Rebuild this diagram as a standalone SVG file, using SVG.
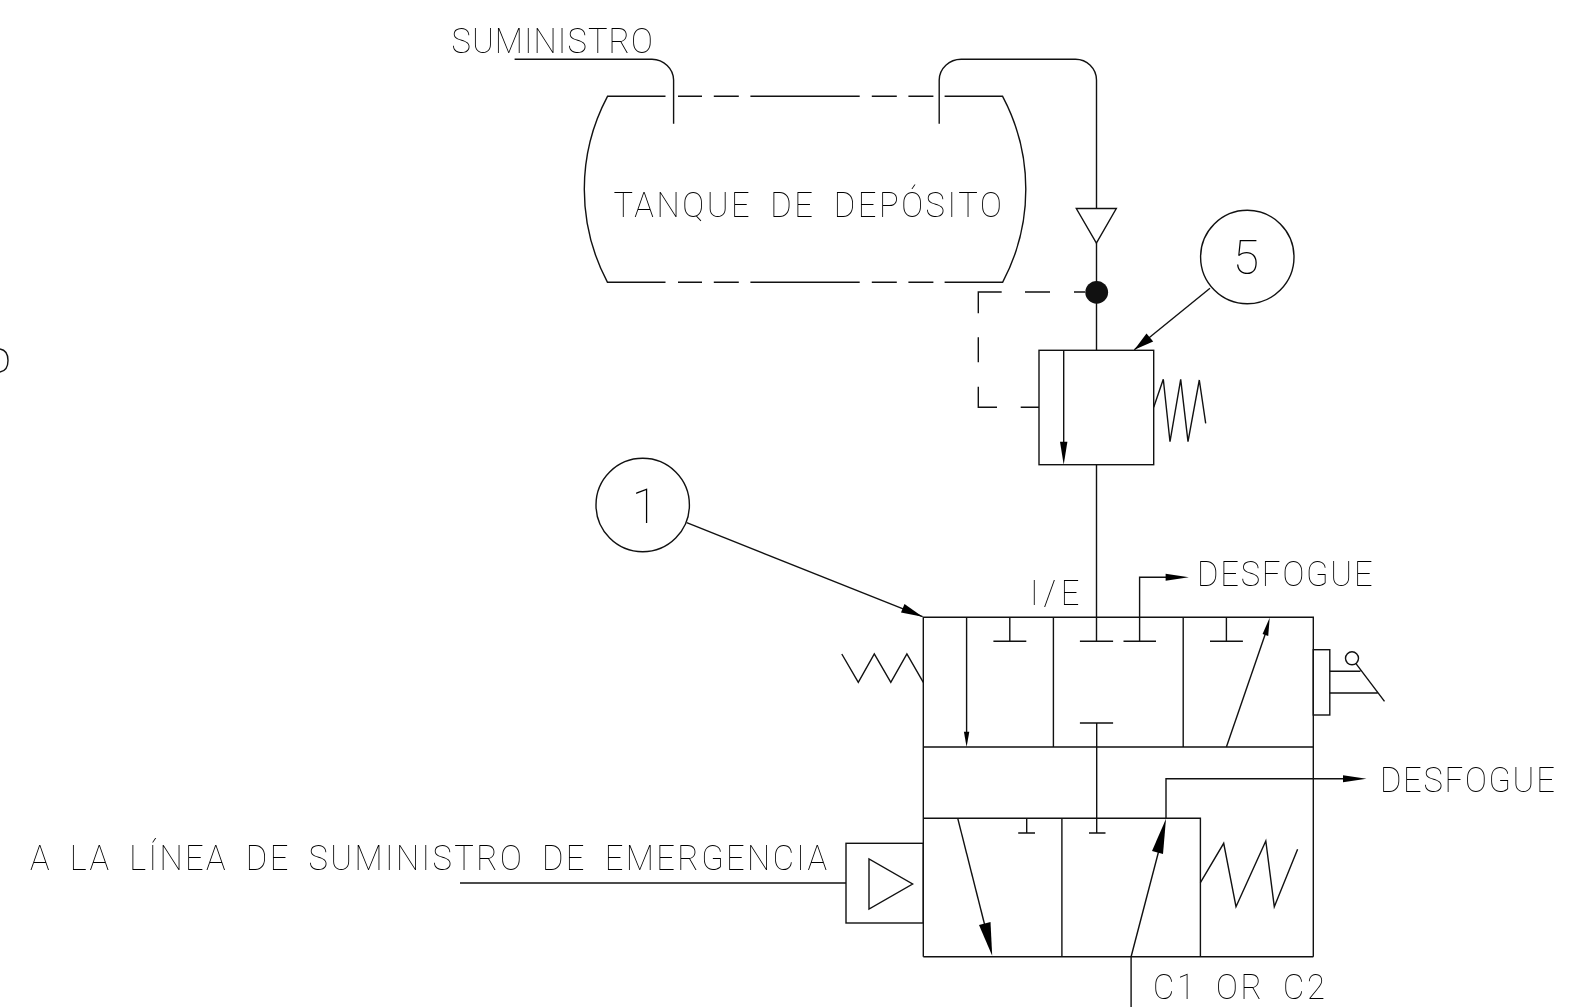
<svg xmlns="http://www.w3.org/2000/svg" width="1589" height="1007" viewBox="0 0 1589 1007">
<defs><filter id="g" x="-10%" y="-30%" width="120%" height="160%" color-interpolation-filters="sRGB"><feOffset dx="0" dy="0"/></filter></defs>
<style>
.l{fill:none;stroke:#111;stroke-width:1.4}
.f{fill:#000;stroke:none}
.t{font-family:Roboto,"Liberation Sans",Arial,sans-serif;fill:#000;font-weight:100;font-size:34.5px;word-spacing:8px;filter:url(#g)}
.n{font-size:48px;word-spacing:0}
</style>
<rect width="1589" height="1007" fill="#fff"/>
<g id="connectors">
<path class="l" d="M514.6 59.3H652A22 21 0 0 1 673.6 80V123.7"/>
<path class="l" d="M939.2 123.7V80A22 21 0 0 1 961.5 59.3H1075.4A21 21 0 0 1 1096.5 80V208.5"/>
<path class="l" d="M1096.5 243V350.3M1096.5 464.7V641.3"/>
<path class="l" d="M1085 292H1074M1050 292H1025M1001.7 292H978.3V313.3M978.3 337.3V362.3M978.3 386.7V407.3H997M1020.7 407.3H1039"/>
<path class="l" d="M1210 288.3L1134.3 349.7"/>
<path class="f" d="M1134.3 349.7L1146.5 333.5L1153.2 341.5Z"/>
<path class="l" d="M686.7 522.7L922.6 616.7"/>
<path class="f" d="M922.6 616.7L901 612.5L904.5 604Z"/>
<path class="l" d="M1139.6 617.3V577.3H1166"/>
<path class="f" d="M1188.9 577.3L1165.6 573.8V580.8Z"/>
<path class="l" d="M1166 818.3V778.7H1344"/>
<path class="f" d="M1366.5 778.7L1343 775.2V782.2Z"/>
<path class="l" d="M1096.7 723V833"/>
<path class="l" d="M1131.1 1007V956.7L1159 850"/>
<path class="f" d="M1166 818.7L1163 854L1152 851Z"/>
<path class="l" d="M460 883H846"/>
</g>
<g id="tank">
<path class="l" d="M665.5 96.3H607.5A198 198 0 0 0 607.5 282.3H665.5M678 282.3H702M713.8 282.3H738.8M750.4 282.3H859.7M871.8 282.3H896.8M908.4 282.3H933.4M944.6 282.3H1002.6A198 198 0 0 0 1002.6 96.3H944.6M933.4 96.3H908.4M896.8 96.3H871.8M859.7 96.3H750.4M738.8 96.3H713.8M702 96.3H678"/>
<text class="t" transform="translate(613.4 216.7) scale(.95 1)" textLength="408.8" lengthAdjust="spacing">TANQUE DE DEPÓSITO</text>
</g>
<g id="supply-label"><text class="t" transform="translate(451.5 52.7) scale(.95 1)" textLength="212" lengthAdjust="spacing">SUMINISTRO</text></g>
<g id="check-valve"><path class="l" d="M1076.3 208.5H1116.3L1096.4 243Z"/></g>
<g id="junction"><circle cx="1096.7" cy="292.3" r="11.4" fill="#111"/></g>
<g id="balloon-5"><circle class="l" cx="1247.3" cy="257" r="46.7"/><text class="t n" x="1246" y="274" text-anchor="middle">5</text></g>
<g id="balloon-1"><circle class="l" cx="642.7" cy="505" r="46.7"/><text class="t n" x="645" y="523" text-anchor="middle">1</text></g>
<g id="valve-5">
<rect class="l" x="1039" y="350.3" width="114.7" height="114.4"/>
<path class="l" d="M1063.7 350.3V445"/>
<path class="f" d="M1063.7 464.7L1060 441.7H1067.4Z"/>
<path class="l" d="M1153.7 407.3L1163.3 379.3L1170 441.7L1180.7 379.3L1188 441.7L1199.3 380L1205.7 423.3"/>
</g>
<g id="valve-upper">
<path class="l" d="M923.3 956.7V617.3H1313.3V956.7M923.3 747H1313.3M1053.4 617.3V747M1183.2 617.3V747"/>
<path class="l" d="M1009.8 617.3V641.3M993.4 641.3H1026.3M1079.9 641.3H1113.1M1139.6 617.3V641.3M1123.5 641.3H1156M1226.4 617.3V641.3M1210 641.3H1242.9M1079.9 723H1113.1"/>
<path class="l" d="M966.6 617.3V735"/>
<path class="f" d="M966.6 747L963.9 731.7H969.3Z"/>
<path class="l" d="M1226.4 747L1266 632"/>
<path class="f" d="M1269.7 617.7L1268.2 636L1262.6 634Z"/>
<path class="l" d="M841.8 654L858.3 682.3L874.3 654L890.8 682.3L906.9 654L923.3 682.3"/>
<rect class="l" x="1313.3" y="649.7" width="16.5" height="65.3"/>
<path class="l" d="M1329.8 671.3H1360.4M1329.8 693H1377.6M1355.8 663.3L1384.5 701.3"/>
<circle class="l" cx="1352" cy="658.3" r="6.5"/>
</g>
<g id="valve-lower">
<path class="l" d="M923.3 818.3H1200.4V956.7M923.3 956.7H1313.3M1061.9 818.3V956.7"/>
<path class="l" d="M1026.7 818.3V833M1018.2 833H1035M1089 833H1105.5"/>
<path class="l" d="M957.8 818.7L986 930"/>
<path class="f" d="M992.2 955.7L979 925L990.5 922Z"/>
<path class="l" d="M1200.4 882.7L1223.7 843.3L1236 906.7L1265.8 841L1274.3 906.7L1297.6 849.3"/>
<rect class="l" x="846" y="843.3" width="77.3" height="79.7"/>
<path class="l" d="M869 859V909L912.6 884Z"/>
</g>
<g id="labels">
<text class="t" transform="translate(1030 605) scale(.95 1)" textLength="52" lengthAdjust="spacing">I/E</text>
<text class="t" transform="translate(1196.9 586) scale(.95 1)" textLength="185" lengthAdjust="spacing">DESFOGUE</text>
<text class="t" transform="translate(1380 791.7) scale(.95 1)" textLength="184" lengthAdjust="spacing">DESFOGUE</text>
<text class="t" transform="translate(1153 999.3) scale(.95 1)" textLength="181" lengthAdjust="spacing">C1 OR C2</text>
<text class="t" transform="translate(30 870) scale(.95 1)" textLength="839" lengthAdjust="spacing">A LA LÍNEA DE SUMINISTRO DE EMERGENCIA</text>
</g>
<path class="l" d="M0 349C6 350 8 355 8 360.5S6 371 0 372"/>
</svg>
